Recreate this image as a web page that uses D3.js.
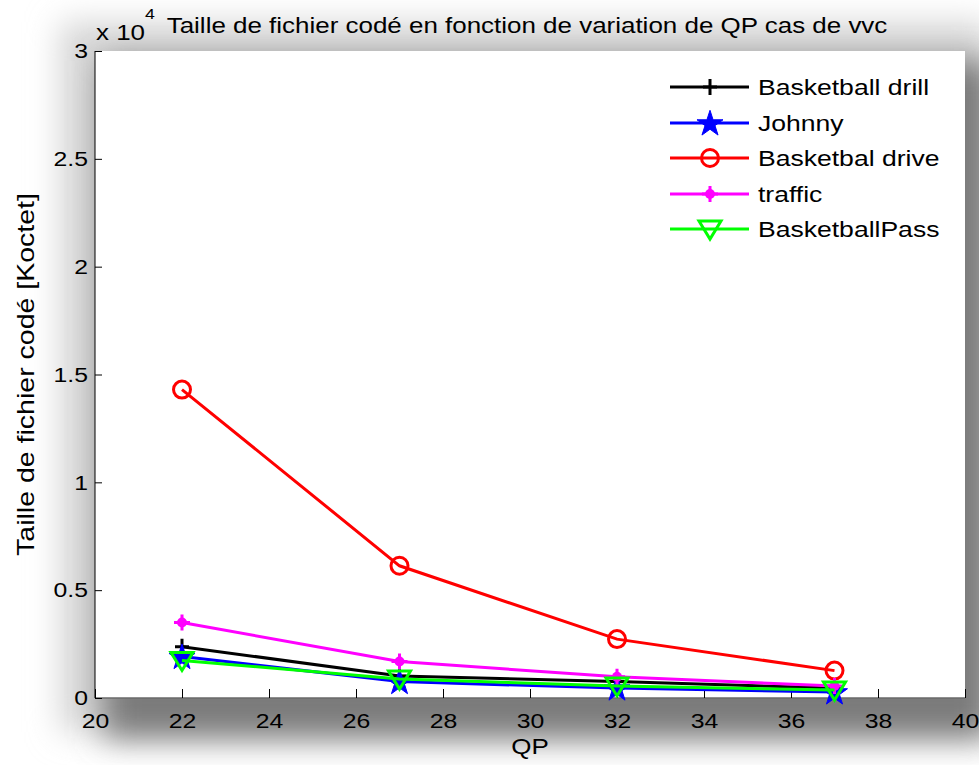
<!DOCTYPE html>
<html>
<head>
<meta charset="utf-8">
<script src="https://cdn.jsdelivr.net/npm/d3@7"></script>
<style>
  html, body { margin: 0; padding: 0; background: #fff; }
  svg { display: block; font-family: "Liberation Sans", Arial, sans-serif; }
</style>
</head>
<body>
<svg id="chart" width="979" height="765"></svg>
<script>
// ---- data ----
const qp = [22, 27, 32, 37];
const seriesNames = ["Basketball drill", "Johnny", "Basketbal drive", "traffic", "BasketballPass"];
const basketballDrill = [2380, 1020, 760, 460];
const johnny = [1920, 760, 460, 280];
const basketbalDrive = [14300, 6130, 2730, 1270];
const traffic = [3500, 1690, 980, 560];
const basketballPass = [1740, 880, 560, 370];
const xTicks = [20, 22, 24, 26, 28, 30, 32, 34, 36, 38, 40];
const yTicks = [0, 5000, 10000, 15000, 20000, 25000, 30000];
const yTickLabels = ["0", "0.5", "1", "1.5", "2", "2.5", "3"];
const titleText = "Taille de fichier codé en fonction de variation de QP cas de vvc";
const xLabel = "QP";
const yLabel = "Taille de fichier codé [Koctet]";

const series = [
  { name: seriesNames[0], values: basketballDrill, color: "#000000", marker: "plus" },
  { name: seriesNames[1], values: johnny, color: "#0000ff", marker: "star" },
  { name: seriesNames[2], values: basketbalDrive, color: "#ff0000", marker: "circle" },
  { name: seriesNames[3], values: traffic, color: "#ff00ff", marker: "blob" },
  { name: seriesNames[4], values: basketballPass, color: "#00ff00", marker: "tri" }
];

// ---- layout ----
const SX = 1.18; // horizontal stretch of text in the reference
const svg = d3.select("#chart");
const L = 95, R = 965, T = 51, B = 698;
const x = d3.scaleLinear().domain([20, 40]).range([L, R]);
const y = d3.scaleLinear().domain([0, 30000]).range([B, T]);

// shadow
const defs = svg.append("defs");
const f = defs.append("filter").attr("id", "blur").attr("x", "-20%").attr("y", "-20%").attr("width", "140%").attr("height", "140%");
f.append("feGaussianBlur").attr("stdDeviation", 16);
svg.append("rect").attr("x", 60).attr("y", 22).attr("width", 930).attr("height", 710)
  .attr("fill", "#d6d6d6").attr("filter", "url(#blur)");
svg.append("rect").attr("x", L + 8).attr("y", T + 10).attr("width", R - L + 20).attr("height", B - T + 30)
  .attr("fill", "#7a7a7a").attr("filter", "url(#blur)");

// axes background
svg.append("rect").attr("x", L).attr("y", T).attr("width", R - L).attr("height", B - T).attr("fill", "#fff");

// axes lines
svg.append("line").attr("x1", L).attr("x2", L).attr("y1", T).attr("y2", B).attr("stroke", "#000").attr("stroke-width", 1);
svg.append("line").attr("x1", L).attr("x2", R).attr("y1", B).attr("y2", B).attr("stroke", "#6a6a6a").attr("stroke-width", 1.5);

// y axis ticks (inward)
const yAxis = d3.axisLeft(y).tickValues(yTicks).tickFormat((d, i) => yTickLabels[i]).tickSizeInner(-7).tickSizeOuter(0).tickPadding(6);
const gy = svg.append("g").attr("transform", `translate(${L},0)`).call(yAxis);
gy.select(".domain").remove();
gy.selectAll("text").attr("font-size", 21).attr("fill", "#000").attr("font-family", "Liberation Sans, Arial, sans-serif").attr("transform", `scale(${SX},1)`);
gy.selectAll("line").attr("stroke", "#000");

// x axis ticks (inward)
const xAxis = d3.axisBottom(x).tickValues(xTicks).tickFormat(d3.format("d")).tickSizeInner(-9).tickSizeOuter(0).tickPadding(15);
const gx = svg.append("g").attr("transform", `translate(0,${B})`).call(xAxis);
gx.select(".domain").remove();
gx.selectAll("text").attr("font-size", 21).attr("fill", "#000").attr("font-family", "Liberation Sans, Arial, sans-serif").attr("transform", `scale(${SX},1)`);
gx.selectAll("line").attr("stroke", "#000");

function stext(px, py, size, anchor, str, rot, sx) {
  const t = svg.append("text")
    .attr("transform", `translate(${px},${py})${rot ? ` rotate(${rot})` : ""} scale(${sx || SX},1)`)
    .attr("font-size", size).attr("fill", "#000").attr("text-anchor", anchor);
  if (str !== null) t.text(str);
  return t;
}

// title and exponent
stext(96, 40, 22, "start", null).html('x 10<tspan dy="-21" font-size="15">4</tspan>');
stext(527, 33, 22, "middle", titleText);
stext(530, 754, 22, "middle", xLabel);
stext(34, (T + B) / 2, 23, "middle", yLabel, -90, 1.24);

// markers
function drawMarker(g, type, color, cx, cy) {
  if (type === "plus") {
    g.append("path").attr("d", `M${cx - 7},${cy}H${cx + 7}M${cx},${cy - 8}V${cy + 8}`)
      .attr("stroke", color).attr("stroke-width", 3).attr("fill", "none");
  } else if (type === "star") {
    const star = d3.symbol().type(d3.symbolStar).size(210);
    g.append("path").attr("d", star()).attr("transform", `translate(${cx},${cy + 1})`).attr("fill", color).attr("stroke", color).attr("stroke-width", 1);
  } else if (type === "circle") {
    g.append("circle").attr("cx", cx).attr("cy", cy).attr("r", 8.5).attr("fill", "none").attr("stroke", color).attr("stroke-width", 3);
  } else if (type === "blob") {
    g.append("circle").attr("cx", cx).attr("cy", cy).attr("r", 5).attr("fill", color);
    g.append("path").attr("d", `M${cx - 8},${cy}H${cx + 8}M${cx},${cy - 8}V${cy + 8}`)
      .attr("stroke", color).attr("stroke-width", 3).attr("fill", "none");
  } else if (type === "tri") {
    g.append("path").attr("d", `M${cx - 11},${cy - 8}L${cx + 11},${cy - 8}L${cx},${cy + 10}Z`)
      .attr("fill", "none").attr("stroke", color).attr("stroke-width", 3).attr("stroke-linejoin", "miter");
  }
}

const line = d3.line().x((d, i) => x(qp[i])).y(d => y(d));
const plot = svg.append("g");
series.forEach(s => {
  plot.append("path").attr("d", line(s.values)).attr("fill", "none").attr("stroke", s.color).attr("stroke-width", 3);
  s.values.forEach((v, i) => drawMarker(plot, s.marker, s.color, x(qp[i]), y(v)));
});

// legend
const legY = [87, 123, 158, 194, 229];
const lg = svg.append("g");
series.forEach((s, i) => {
  const ly = legY[i];
  lg.append("line").attr("x1", 670).attr("x2", 749).attr("y1", ly).attr("y2", ly).attr("stroke", s.color).attr("stroke-width", 3);
  drawMarker(lg, s.marker, s.color, 710, ly);
  stext(758, ly + 8, 22.5, "start", s.name);
});
</script>
</body>
</html>
